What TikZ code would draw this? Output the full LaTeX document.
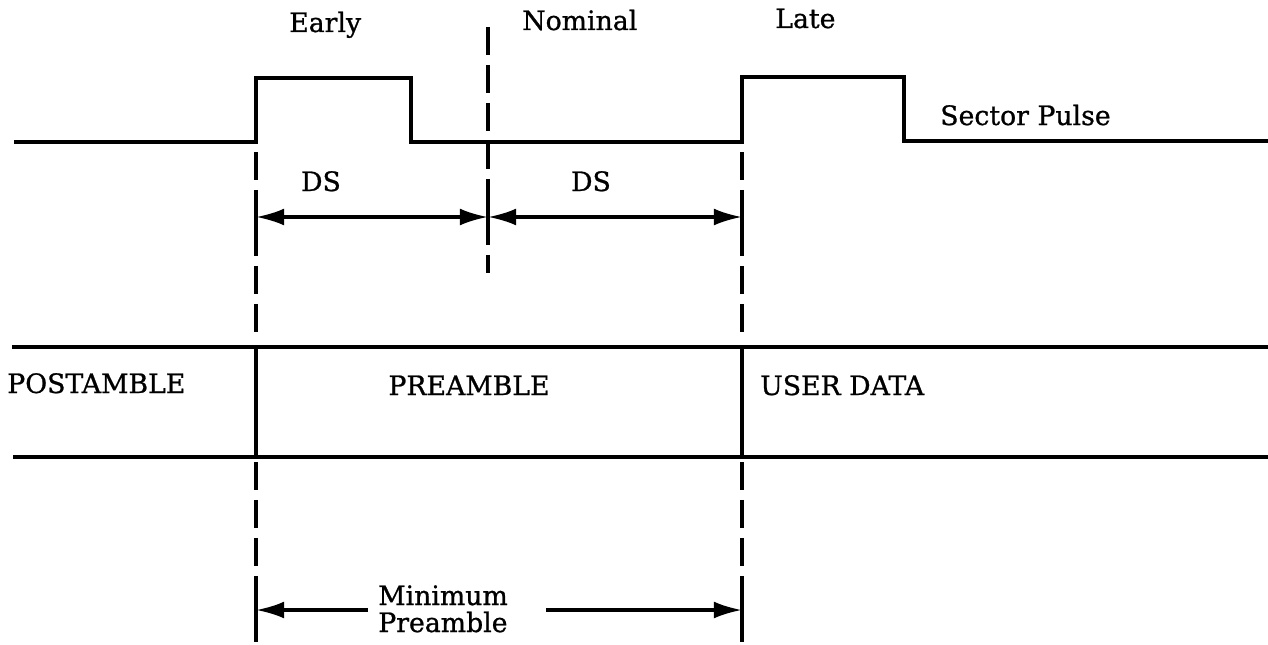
\documentclass[tikz,border=0pt]{standalone}
\usepackage{fontspec}
\setmainfont{DejaVu Serif}[FakeBold=0.9]
\usetikzlibrary{arrows.meta}
\usetikzlibrary{calc}

\begin{document}
\begin{tikzpicture}[x=0.025cm, y=-0.025cm,
>={Latex[length=20pt,width=12pt]},
signal/.style = {line width=2.9pt, line join=miter},
guide/.style = {line width=2.5pt, dash pattern=on 20pt off 7pt},
guidetick/.style = {line width=2.5pt},
band/.style = {line width=3pt},
dimline/.style = {line width=2.3pt},
lbl/.style = {font=\fontsize{19}{19.5}\selectfont, inner sep=0pt, anchor=base west}
]
\useasboundingbox (0,0) rectangle (1268,644);

\pgfmathsetmacro{\pulsetop}{78}
\pgfmathsetmacro{\pulsebase}{142}
\pgfmathsetmacro{\bandtop}{347}
\pgfmathsetmacro{\bandbot}{457}

\coordinate (early) at (256,0);
\coordinate (nominal) at (488,0);
\coordinate (late) at (742,0);

% sector pulse
\draw [signal] (14,\pulsebase) -| ($ (early) + (0,\pulsetop) $)
  -| (411,\pulsebase)
  -| ($ (late) + (0,\pulsetop-1) $)
  -| (904,\pulsebase-1) -- (1268,\pulsebase-1);

% guide lines
\draw [guide] ($ (early) + (0,152) $) -- ($ (early) + (0,\bandtop-6) $);
\draw [guide] ($ (early) + (0,\bandbot+5) $) -- ($ (early) + (0,644) $);
\draw [guide] ($ (late) + (0,152) $) -- ($ (late) + (0,\bandtop-6) $);
\draw [guide] ($ (late) + (0,\bandbot+5) $) -- ($ (late) + (0,644) $);
\draw [guide] ($ (nominal) + (0,27) $) -- ($ (nominal) + (0,273) $);

% data band
\draw [band] (12,\bandtop) -- (1268,\bandtop);
\draw [band] (13,\bandbot) -- (1268,\bandbot);
\draw [band] ($ (early) + (0,\bandtop) $) -- ($ (early) + (0,\bandbot) $);
\draw [band] ($ (late) + (0,\bandtop) $) -- ($ (late) + (0,\bandbot) $);

% dimensions
\coordinate (dsA) at (256,217);
\coordinate (dsB) at (488,217);
\coordinate (dsC) at (742,217);
\coordinate (mpA) at (256,610);
\coordinate (mpB) at (742,610);
\foreach \p in {dsA,dsB,dsC,mpA,mpB}
  \draw [guidetick] ($ (\p) + (0,-15) $) -- ($ (\p) + (0,15) $);
\draw [dimline, <->] (dsA) -- (dsB);
\draw [dimline, <->] (dsB) -- (dsC);

\node [lbl] (earlylbl) at (289,32) {Early};
\node [lbl] (nomlbl) at (522,30) {Nominal};
\node [lbl] (latelbl) at (775,28) {Late};
\node [lbl] (sectorlbl) at (940,125) {Sector Pulse};
\node [lbl, anchor=base] (dsleft) at (321,191) {DS};
\node [lbl, anchor=base] (dsright) at (591,191) {DS};

\node [lbl] (postlbl) at (7,393) {POSTAMBLE};
\node [lbl, anchor=base] (prelbl) at (469,395) {PREAMBLE};
\node [lbl] (userlbl) at (760,395) {USER DATA};

\node [lbl] (minlbl) at (378,605) {Minimum};
\node [lbl] (minprelbl) at (378,632) {Preamble};
\draw [dimline, ->] ($ (minlbl.west |- mpA) + (-10,0) $) -- (mpA);
\draw [dimline, ->] ($ (minprelbl.east |- mpB) + (38,0) $) -- (mpB);

\end{tikzpicture}
\end{document}
